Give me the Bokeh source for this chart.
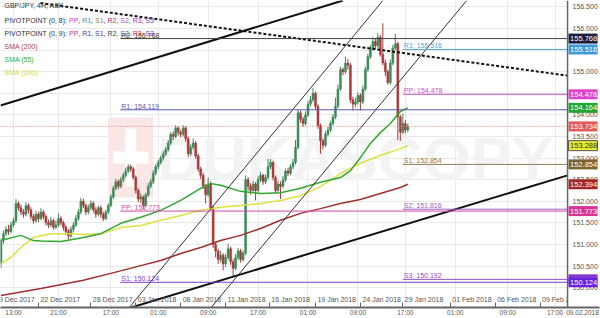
from bokeh.plotting import figure
from bokeh.models import (Range1d, LinearAxis, FixedTicker, PrintfTickFormatter, Grid,
                          ColumnDataSource)
from bokeh.core.properties import value
from bokeh.embed import file_html
from bokeh.resources import INLINE

FONT = "Liberation Sans"

# ---------------- data (GBP/JPY 4H candles, index = candle number) ----------------
first_open = 150.55
closes = [
    151.10, 151.25, 151.35, 151.30, 151.45, 151.55, 151.95, 151.85, 151.75, 151.70,
    151.90, 151.80, 151.65, 151.55, 151.70, 151.60, 151.75, 151.65, 151.50, 151.45,
    151.55, 151.40, 151.45, 151.60, 151.50, 151.40, 151.30, 151.20, 151.35, 151.45,
    151.60, 151.75, 152.00, 151.90, 151.75, 151.85, 151.95, 151.80, 151.70, 151.85,
    151.70, 151.60, 151.75, 151.90, 152.10, 152.30, 152.45, 152.35, 152.50, 152.60,
    152.70, 152.80, 152.75, 152.55, 152.25, 152.05, 152.10, 151.90, 152.15, 152.35,
    152.45, 152.65, 152.80, 152.90, 153.00, 153.10, 153.20, 153.35, 153.55, 153.50,
    153.70, 153.60, 153.55, 153.70, 153.45, 153.10, 153.25, 153.35, 153.05, 152.75,
    152.60, 152.35, 152.15, 152.40, 151.85, 151.00, 150.85, 150.65, 150.75, 150.55,
    150.70, 150.90, 150.60, 150.45, 150.70, 150.85, 150.65, 150.80, 152.50, 152.35,
    152.25, 152.40, 152.25, 152.50, 152.60, 152.45, 152.55, 152.80, 152.90, 152.55,
    152.25, 152.40, 152.35, 152.50, 152.70, 152.65, 152.80, 152.90, 153.25, 154.05,
    153.90, 153.80, 154.00, 154.25, 154.35, 154.50, 154.20, 153.75, 153.40, 153.30,
    153.55, 153.65, 153.80, 153.95, 154.20, 154.60, 155.05, 155.00, 155.20, 155.15,
    154.35, 154.25, 154.30, 154.45, 154.30, 154.60, 155.05, 155.35, 155.55, 155.70,
    155.60, 155.80, 155.40, 155.20, 155.00, 154.75, 155.20, 155.55, 155.65, 153.95,
    153.60, 153.80, 153.65, 153.734]
highs = [
    151.15, 151.32, 151.42, 151.45, 151.52, 151.62, 152.05, 152.00, 151.92, 151.82,
    151.98, 151.95, 151.86, 151.70, 151.78, 151.76, 151.84, 151.80, 151.70, 151.58,
    151.64, 151.60, 151.55, 151.72, 151.66, 151.55, 151.46, 151.36, 151.42, 151.52,
    151.68, 151.82, 152.08, 152.06, 151.95, 151.92, 152.02, 152.00, 151.86, 151.90,
    151.90, 151.76, 151.80, 151.96, 152.16, 152.36, 152.52, 152.50, 152.56, 152.66,
    152.78, 152.86, 152.85, 152.80, 152.60, 152.30, 152.18, 152.14, 152.20, 152.42,
    152.52, 152.72, 152.86, 152.96, 153.06, 153.16, 153.26, 153.42, 153.60, 153.62,
    153.76, 153.74, 153.66, 153.76, 153.74, 153.50, 153.32, 153.45, 153.40, 153.10,
    152.80, 152.66, 152.40, 152.55, 152.46, 151.90, 151.05, 150.90, 150.85, 150.80,
    150.78, 151.02, 150.95, 150.66, 150.78, 150.92, 150.90, 150.86, 152.60, 152.56,
    152.42, 152.48, 152.45, 152.58, 152.68, 152.64, 152.62, 152.98, 152.98, 152.94,
    152.60, 152.48, 152.46, 152.58, 152.76, 152.78, 152.86, 152.98, 153.42, 154.12,
    154.10, 153.96, 154.08, 154.32, 154.44, 154.62, 154.54, 154.25, 153.80, 153.46,
    153.62, 153.72, 153.86, 154.02, 154.40, 154.70, 155.12, 155.10, 155.35, 155.30,
    155.20, 154.42, 154.40, 154.52, 154.50, 154.68, 155.12, 155.42, 155.62, 155.80,
    155.78, 155.90, 155.85, 156.12, 155.28, 155.05, 155.28, 155.62, 155.88, 155.70,
    154.00, 154.03, 153.88, 153.80]
lows = [
    150.45, 151.02, 151.20, 151.22, 151.26, 151.40, 151.50, 151.78, 151.68, 151.62,
    151.65, 151.72, 151.58, 151.48, 151.50, 151.52, 151.56, 151.58, 151.44, 151.38,
    151.40, 151.34, 151.35, 151.40, 151.44, 151.32, 151.22, 151.12, 151.15, 151.28,
    151.40, 151.55, 151.70, 151.84, 151.68, 151.70, 151.80, 151.74, 151.62, 151.65,
    151.62, 151.54, 151.56, 151.70, 151.86, 152.05, 152.25, 152.28, 152.30, 152.44,
    152.55, 152.65, 152.68, 152.50, 152.18, 151.98, 151.96, 151.82, 151.86, 152.10,
    152.30, 152.40, 152.60, 152.74, 152.85, 152.94, 153.05, 153.15, 153.30, 153.42,
    153.46, 153.52, 153.48, 153.50, 153.38, 153.02, 153.05, 153.20, 152.98, 152.68,
    152.52, 152.28, 151.95, 152.10, 151.80, 150.92, 150.70, 150.55, 150.58, 150.40,
    150.48, 150.65, 150.52, 150.25, 150.40, 150.64, 150.58, 150.60, 150.75, 152.25,
    152.15, 152.20, 152.02, 152.20, 152.44, 152.38, 152.40, 152.50, 152.74, 152.48,
    152.18, 152.20, 152.05, 152.30, 152.45, 152.58, 152.60, 152.74, 152.85, 153.20,
    153.82, 153.72, 153.75, 153.95, 154.20, 154.30, 154.12, 153.68, 153.10, 153.20,
    153.25, 153.50, 153.60, 153.75, 153.90, 154.15, 154.55, 154.92, 154.95, 155.05,
    154.28, 154.10, 154.18, 154.24, 154.10, 154.25, 154.55, 155.00, 155.30, 155.50,
    155.52, 155.55, 155.35, 155.15, 154.90, 154.70, 154.70, 155.15, 155.50, 153.42,
    153.40, 153.55, 153.58, 153.60]

# moving averages (candle index, value)
sma200_x = [0, 16, 33, 44, 56, 64, 72, 80, 88, 96, 104, 112, 120, 128, 136, 144, 152, 160, 163]
sma200_y = [149.82, 149.98, 150.17, 150.33, 150.51, 150.63, 150.79, 150.93, 151.09, 151.21,
            151.37, 151.56, 151.72, 151.83, 151.95, 152.04, 152.18, 152.32, 152.394]
sma55_x = [0, 8, 13, 16, 24, 32, 40, 48, 56, 64, 72, 80, 84, 88, 96, 104, 112, 120, 128,
           136, 140, 144, 148, 152, 156, 160, 163]
sma55_y = [151.09, 151.21, 151.09, 151.08, 151.07, 151.15, 151.25, 151.49, 151.63, 151.79,
           152.02, 152.30, 152.41, 152.37, 152.23, 152.18, 152.20, 152.30, 152.44, 152.55,
           152.71, 153.01, 153.34, 153.59, 153.80, 154.08, 154.164]
sma100_x = [0, 4, 8, 13, 20, 27, 33, 40, 48, 56, 64, 72, 80, 88, 96, 104, 112, 120, 128,
            136, 144, 152, 160, 163]
sma100_y = [150.56, 150.70, 150.93, 151.16, 151.25, 151.25, 151.23, 151.25, 151.39, 151.44,
            151.56, 151.67, 151.79, 151.86, 151.90, 151.95, 152.02, 152.13, 152.34, 152.64,
            152.88, 153.06, 153.22, 153.288]

# pivot levels
pivot_labels = ["R2: 155.768", "R1: 155.516", "PP: 154.478", "R1: 154.119", "S1: 152.854",
                "S2: 151.816", "PP: 151.773", "S3: 150.192", "S1: 150.124"]
pivot_values = [155.768, 155.516, 154.478, 154.119, 152.854, 151.816, 151.773, 150.192, 150.124]
pivot_start = [47.8, 161.0, 161.0, 47.8, 161.0, 161.0, 47.8, 161.0, 47.8]
pivot_colors = ["#404040", "#4fa6d8", "#cc4fcc", "#5a5ab4", "#8c7d52",
                "#a35bc8", "#d04aa8", "#8a4ec8", "#7b3fd0"]

last_price = 153.734

# drawn trend lines (candle index, price)
upper_line_x = [-0.2, 137.0]
upper_line_y = [154.22, 156.65]
lower_line_x = [52.2, 227.0]
lower_line_y = [149.54, 152.60]
dash_line_x = [15.8, 227.0]
dash_line_y = [156.59, 154.91]
chan1_x = [51.4, 153.0]
chan1_y = [149.54, 156.65]
chan2_x = [84.2, 186.6]
chan2_y = [149.54, 156.65]

# price tags on the right scale
tag_values = [155.768, 155.516, 154.478, 154.164, 153.734, 153.288, 152.854, 152.394,
              151.773, 150.192, 150.124]
tag_fill = ["#1c1c3c", "#3d9ad8", "#dd44cc", "#22a532", "#e05a5a", "#e8e830", "#7a6530",
            "#a02828", "#dd3399", "#8833cc", "#6622dd"]
tag_text = ["white", "white", "white", "white", "white", "#333333", "white", "white",
            "white", "white", "white"]

# axes
y_ticks = [150.0, 150.5, 151.0, 151.5, 152.0, 152.5, 153.0, 153.5, 154.0, 154.5, 155.0,
           155.5, 156.0, 156.5]
time_ticks = [5, 23, 44, 63, 83, 103, 123, 143, 162, 182, 203, 222]
time_labels = ["13:00", "21:00", "17:00", "01:00", "09:00", "17:00", "01:00", "09:00",
               "17:00", "01:00", "09:00", "17:00"]
last_date_tick = 233
last_date_label = "09.02.2018"
date_ticks = [-3.2, 15, 36, 54, 72, 90, 107.5, 126, 144, 161, 180, 198, 216]
date_labels = ["19 Dec 2017", "22 Dec 2017", "28 Dec 2017", "03 Jan 2018", "08 Jan 2018",
               "11 Jan 2018", "16 Jan 2018", "19 Jan 2018", "24 Jan 2018", "29 Jan 2018",
               "01 Feb 2018", "06 Feb 2018", "09 Feb 2018"]

# ---------------- layout helpers ----------------
PX_PER_X = 2.5
X_START = -0.2
X_SCALE_END = 227.0                      # price-scale edge (px 568)
X_END = X_START + 600 / PX_PER_X         # frame spans the whole width
Y_LO, Y_HI = 149.54, 156.65
FRAME_H = 307


def px2x(px):
    return X_START + px / PX_PER_X


def py2y(py):
    return Y_HI - py * (Y_HI - Y_LO) / FRAME_H


CW = {'A': .667, 'B': .667, 'C': .722, 'D': .722, 'E': .667, 'G': .778, 'H': .722, 'I': .278,
      'J': .5, 'K': .667, 'M': .833, 'N': .722, 'O': .778, 'P': .667, 'R': .722, 'S': .667,
      'T': .611, 'V': .667, 'Y': .667, ' ': .278, ',': .278, '(': .333, ')': .333, ':': .278,
      '/': .278, '.': .278}


def tw(s, size):
    return sum(CW.get(ch, .556) for ch in s) * size


# ---------------- figure ----------------
p = figure(width=600, height=318, x_range=Range1d(X_START, X_END), y_range=Range1d(Y_LO, Y_HI),
           output_backend="svg", toolbar_location=None, x_axis_location=None,
           y_axis_location=None, min_border_left=0, min_border_top=0,
           min_border_right=0, min_border_bottom=11)
p.outline_line_color = None
p.background_fill_color = "white"
p.center = [r for r in p.center if not isinstance(r, Grid)]

p.add_layout(Grid(dimension=1, ticker=FixedTicker(ticks=y_ticks), grid_line_color="#e9e9e9"))
p.add_layout(Grid(dimension=0, ticker=FixedTicker(ticks=time_ticks), grid_line_color="#e9e9e9"))

# price scale: labels pulled back inside the drawing area, right of the scale line
yaxis = LinearAxis(ticker=FixedTicker(ticks=y_ticks), formatter=PrintfTickFormatter(format="%.3f"),
                   major_tick_in=0, major_tick_out=0, minor_tick_in=0, minor_tick_out=0,
                   major_label_standoff=-27, major_label_text_font=FONT,
                   major_label_text_font_size="7px", major_label_text_color="#555555",
                   axis_line_color=None)
p.add_layout(yaxis, "right")

taxis = LinearAxis(ticker=FixedTicker(ticks=time_ticks + [last_date_tick], minor_ticks=date_ticks),
                   major_label_overrides={**{t: s for t, s in zip(time_ticks, time_labels)},
                                          last_date_tick: last_date_label},
                   major_tick_in=0, major_tick_out=0, minor_tick_in=5, minor_tick_out=0,
                   minor_tick_line_color="#666666", major_label_standoff=1,
                   major_label_text_font=FONT, major_label_text_font_size="6.5px",
                   major_label_text_color="#555555", axis_line_color="#666666",
                   axis_line_width=2)
p.add_layout(taxis, "below")

# watermark
p.quad(left=[px2x(108)], right=[px2x(153)], top=[py2y(117)], bottom=[py2y(197)],
       fill_color="#fbe6e6", line_color=None)
p.quad(left=[px2x(125), px2x(113)], right=[px2x(136), px2x(148)],
       top=[py2y(128), py2y(151)], bottom=[py2y(186), py2y(163)],
       fill_color="white", line_color=None)
p.text(x=[px2x(157)], y=[py2y(158)], text=["DUKASCOPY"], text_font=value(FONT),
       text_font_size=value("62px"), text_font_style="bold", text_color="#f3f3f3",
       text_baseline="middle", text_align="left")

# candles
opens = [first_open] + closes[:-1]
idx = list(range(len(closes)))
colors = ["#3c8a58" if c >= o else "#a83a3a" for o, c in zip(opens, closes)]
src = ColumnDataSource(dict(x=idx, o=opens, c=closes, h=highs, l=lows, col=colors))
p.segment(x0="x", x1="x", y0="l", y1="h", line_color="col", line_width=1, source=src)
p.vbar(x="x", width=0.8, top="o", bottom="c", fill_color="col", line_color="col",
       line_width=0.5, source=src)

# moving averages
p.line(sma200_x, sma200_y, line_color="#a32e2e", line_width=1.5)
p.line(sma100_x, sma100_y, line_color="#e0e040", line_width=1.5)
p.line(sma55_x, sma55_y, line_color="#30a830", line_width=1.5)

# trend lines
p.line(upper_line_x, upper_line_y, line_color="#111111", line_width=2)
p.line(lower_line_x, lower_line_y, line_color="#111111", line_width=2)
p.line(dash_line_x, dash_line_y, line_color="#111111", line_width=2, line_dash="3 2")
p.line(chan1_x, chan1_y, line_color="#333333", line_width=1)
p.line(chan2_x, chan2_y, line_color="#333333", line_width=1)

# pivot lines
p.segment(x0=pivot_start, x1=[X_SCALE_END] * len(pivot_start), y0=pivot_values,
          y1=pivot_values, line_color=pivot_colors, line_width=1)
p.text(x=[s + 0.4 for s in pivot_start], y=pivot_values, text=pivot_labels,
       text_color=pivot_colors, text_font=value(FONT), text_font_size=value("7px"),
       text_baseline="bottom", text_align="left")

# current price
p.segment(x0=[X_START], x1=[X_SCALE_END], y0=[last_price], y1=[last_price],
          line_color="#e07070", line_width=1, line_dash="1 2")

# date row inside the frame
p.text(x=[d + 0.8 for d in date_ticks], y=[py2y(299)] * len(date_ticks), text=date_labels,
       text_color="#555555", text_font=value(FONT), text_font_size=value("7px"),
       text_baseline="middle", text_align="left")

# legend (top-left)
GRAY = "#333333"
legend_rows = [
    [("GBP/JPY, 4H, ASK", GRAY)],
    [("PIVOTPOINT (0, 8): ", GRAY), ("PP", "#cc44cc"), (", ", GRAY), ("R1", "#3399cc"),
     (", ", GRAY), ("S1", "#8c8a66"), (", ", GRAY), ("R2", "#b03050"), (", ", GRAY),
     ("S2", "#a050cc"), (", ", GRAY), ("R3", "#a03399"), (", ", GRAY), ("S3", "#7744cc")],
    [("PIVOTPOINT (0, 9): ", GRAY), ("PP", "#cc3399"), (", ", GRAY), ("R1", "#3344aa"),
     (", ", GRAY), ("S1", "#4a44b0"), (", ", GRAY), ("R2", "#444444"), (", ", GRAY),
     ("S2", "#5566bb"), (", ", GRAY), ("R3", "#cc3333"), (", ", GRAY), ("S3", "#7733cc")],
    [("SMA (200)", "#b04040")],
    [("SMA (55)", "#33aa33")],
    [("SMA (100)", "#d8d830")],
]
row_py = [5, 20, 33, 46, 59, 72]
lx, ly, lt, lc = [], [], [], []
for row, ypx in zip(legend_rows, row_py):
    cursor = 4
    for txt, col in row:
        lx.append(px2x(cursor))
        ly.append(py2y(ypx))
        lt.append(txt)
        lc.append(col)
        cursor += tw(txt, 7)
p.text(x=lx, y=ly, text=lt, text_color=lc, text_font=value(FONT),
       text_font_size=value("7px"), text_baseline="middle", text_align="left")

# price-scale area: blank panel right of the scale line, then the scale line
p.quad(left=[X_SCALE_END], right=[X_END], top=[Y_HI], bottom=[Y_LO],
       fill_color="white", line_color=None)
p.segment(x0=[X_SCALE_END], x1=[X_SCALE_END], y0=[Y_LO], y1=[Y_HI],
          line_color="#666666", line_width=1.5)

# price tags, drawn above the scale labels
for v, f, t in zip(tag_values, tag_fill, tag_text):
    p.rect(x=[px2x(583.5)], y=[v], width=29, height=10, width_units="screen",
           height_units="screen", fill_color=f,
           line_color="#555555" if t != "white" else None, level="overlay")
    p.text(x=[px2x(570.5)], y=[v], text=[f"{v:.3f}"], text_color=t, text_font=value(FONT),
           text_font_size=value("7.5px"), text_baseline="middle", text_align="left",
           level="overlay")

open("out.html", "w").write(file_html(p, INLINE))
